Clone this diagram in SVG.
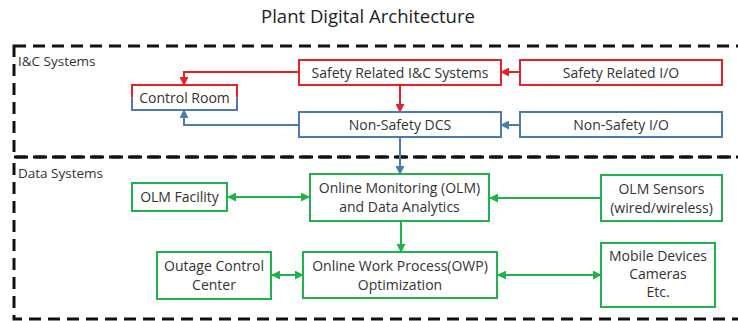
<svg xmlns="http://www.w3.org/2000/svg" width="738" height="321" viewBox="0 0 738 321">
<defs>
<style>
text{font-family:"Open Sans","Liberation Sans",sans-serif;fill:#333;font-size:14px;text-anchor:middle}
.lbl{text-anchor:start;font-size:13.5px}
.title{font-size:18.5px;fill:#222}
.zone{fill:none;stroke:#111;stroke-width:3;stroke-dasharray:12 7}
.r{fill:#fff;stroke:#e8202a;stroke-width:2}
.b{fill:#fff;stroke:#4a7cb0;stroke-width:2}
.g{fill:#fff;stroke:#22b14c;stroke-width:2}
.cr{fill:none;stroke:#e8202a;stroke-width:2}
.cb{fill:none;stroke:#4a7cb0;stroke-width:2}
.cg{fill:none;stroke:#22b14c;stroke-width:2}
</style>
<marker id="mr" viewBox="0 0 10 10" refX="9" refY="5" markerWidth="4.5" markerHeight="4.5" orient="auto-start-reverse"><path d="M0,0L10,5L0,10z" fill="#e8202a"/></marker>
<marker id="mb" viewBox="0 0 10 10" refX="9" refY="5" markerWidth="4.5" markerHeight="4.5" orient="auto-start-reverse"><path d="M0,0L10,5L0,10z" fill="#4a7cb0"/></marker>
<marker id="mg" viewBox="0 0 10 10" refX="9" refY="5" markerWidth="4.5" markerHeight="4.5" orient="auto-start-reverse"><path d="M0,0L10,5L0,10z" fill="#22b14c"/></marker>
</defs>
<rect width="738" height="321" fill="#fff"/>
<text class="title" x="368" y="23">Plant Digital Architecture</text>
<g id="zones">
<rect class="zone" x="14" y="46" width="740" height="111"/>
<rect class="zone" x="14" y="157" width="740" height="162"/>
<text class="lbl" x="18" y="66">I&amp;C Systems</text>
<text class="lbl" x="18" y="178">Data Systems</text>
</g>
<g id="connectors">
<path class="cr" d="M520,72H501" marker-end="url(#mr)"/>
<path class="cr" d="M299,72H184V85" marker-end="url(#mr)"/>
<path class="cr" d="M400,85V112" marker-end="url(#mr)"/>
<path class="cb" d="M520,125H501" marker-end="url(#mb)"/>
<path class="cb" d="M299,125H184V110" marker-end="url(#mb)"/>
<path class="cb" d="M400,137V174" marker-end="url(#mb)"/>
<path class="cg" d="M228,197H309" marker-start="url(#mg)" marker-end="url(#mg)"/>
<path class="cg" d="M601,198H490" marker-end="url(#mg)"/>
<path class="cg" d="M401,221V252" marker-end="url(#mg)"/>
<path class="cg" d="M272,275H303" marker-start="url(#mg)" marker-end="url(#mg)"/>
<path class="cg" d="M498,275H601" marker-start="url(#mg)" marker-end="url(#mg)"/>
</g>
<g id="safety-ic">
<rect class="r" x="299" y="60" width="202" height="25"/>
<text x="400" y="77.5">Safety Related I&amp;C Systems</text>
</g>
<g id="safety-io">
<rect class="r" x="520" y="60" width="202" height="25"/>
<text x="621" y="77.5">Safety Related I/O</text>
</g>
<g id="control-room">
<rect x="132" y="85" width="105" height="25" fill="#fff"/>
<path class="cr" d="M132,97.5V85H237V97.5"/>
<path class="cb" d="M132,97.5V110H237V97.5"/>
<text x="184.5" y="102.5">Control Room</text>
</g>
<g id="non-safety-dcs">
<rect class="b" x="299" y="112" width="202" height="25"/>
<text x="400" y="129.5">Non-Safety DCS</text>
</g>
<g id="non-safety-io">
<rect class="b" x="520" y="112" width="202" height="25"/>
<text x="621" y="129.5">Non-Safety I/O</text>
</g>
<g id="olm-facility">
<rect class="g" x="132" y="183" width="95" height="28"/>
<text x="179.5" y="202">OLM Facility</text>
</g>
<g id="olm">
<rect class="g" x="310" y="174" width="179" height="47"/>
<text x="399.5" y="193">Online Monitoring (OLM)</text>
<text x="399.5" y="212">and Data Analytics</text>
</g>
<g id="olm-sensors">
<rect class="g" x="601" y="175" width="121" height="46"/>
<text x="661.5" y="194">OLM Sensors</text>
<text x="661.5" y="213">(wired/wireless)</text>
</g>
<g id="outage">
<rect class="g" x="157" y="252" width="114" height="47"/>
<text x="214" y="271">Outage Control</text>
<text x="214" y="290">Center</text>
</g>
<g id="owp">
<rect class="g" x="303" y="252" width="194" height="46"/>
<text x="400" y="271">Online Work Process(OWP)</text>
<text x="400" y="290">Optimization</text>
</g>
<g id="mobile">
<rect class="g" x="601" y="243" width="114" height="64"/>
<text x="658" y="261">Mobile Devices</text>
<text x="658" y="279">Cameras</text>
<text x="658" y="297">Etc.</text>
</g>
</svg>
